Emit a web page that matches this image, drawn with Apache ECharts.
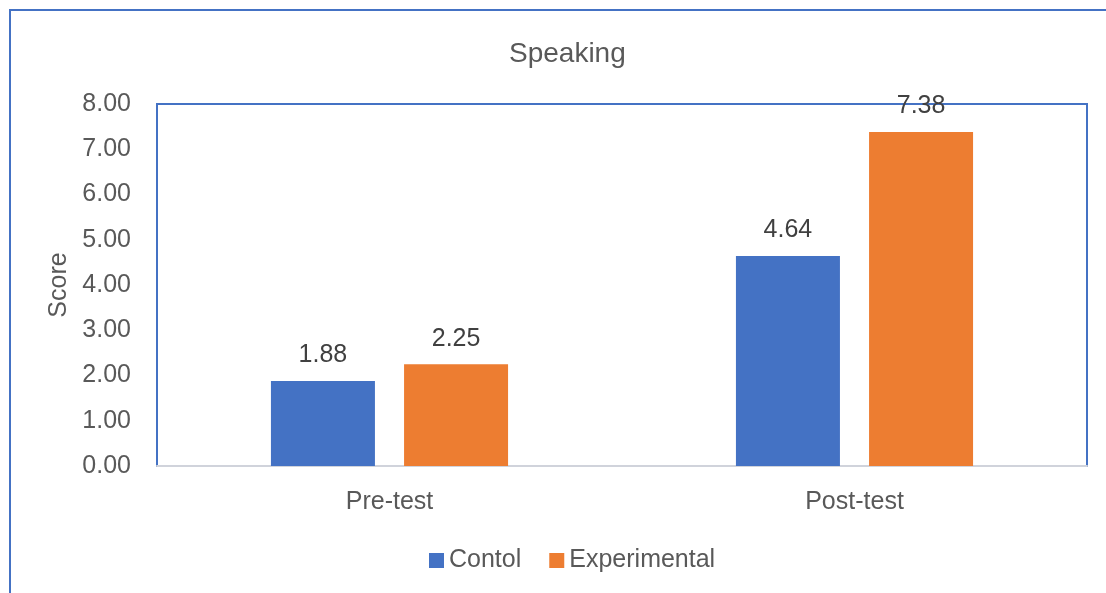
<!DOCTYPE html>
<html>
<head>
<meta charset="utf-8">
<script src="https://cdn.jsdelivr.net/npm/echarts@6/dist/echarts.min.js"></script>
<style>
  html, body { margin: 0; padding: 0; background: #fff; }
  #chart { width: 1106px; height: 593px; }
</style>
</head>
<body>
<div id="chart"></div>
<script>
// Speaking scores by test phase
const categories = ['Pre-test', 'Post-test'];
const controlScores = [1.88, 4.64];
const experimentalScores = [2.25, 7.38];
const seriesNames = ['Contol', 'Experimental'];

const FONT = '"Liberation Sans Narrow", "Liberation Sans", Arial, sans-serif';
const TEXT = '#595959';
const SIZE = 25;

const chart = echarts.init(document.getElementById('chart'));
chart.setOption({
  animation: false,
  title: {
    text: 'Speaking',
    left: 504,
    top: 35,
    textStyle: { fontFamily: FONT, fontSize: 28, fontWeight: 'normal', color: TEXT }
  },
  graphic: [{
    type: 'rect',
    shape: { x: 10, y: 10, width: 1200, height: 700 },
    style: { fill: 'none', stroke: '#4472C4', lineWidth: 2 },
    silent: true
  }],
  legend: {
    bottom: 15,
    left: 424,
    itemWidth: 15,
    itemHeight: 15,
    itemGap: 28,
    icon: 'rect',
    textStyle: { fontFamily: FONT, fontSize: SIZE, color: TEXT },
    data: seriesNames
  },
  grid: {
    left: 157, right: 19, top: 104, bottom: 127,
    show: true,
    borderColor: '#4472C4',
    borderWidth: 2,
    backgroundColor: 'transparent'
  },
  xAxis: {
    type: 'category',
    data: categories,
    axisTick: { show: false },
    axisLine: { lineStyle: { color: '#D0D3DB', width: 2 } },
    axisLabel: { fontFamily: FONT, fontSize: SIZE, color: TEXT, margin: 24 }
  },
  yAxis: {
    type: 'value',
    min: 0, max: 8, interval: 1,
    name: 'Score',
    nameLocation: 'middle',
    nameGap: 76,
    nameTextStyle: { fontFamily: FONT, fontSize: SIZE, color: TEXT },
    axisLine: { show: false },
    axisTick: { show: false },
    splitLine: { show: false },
    axisLabel: {
      fontFamily: FONT, fontSize: SIZE, color: TEXT, margin: 26,
      formatter: v => v.toFixed(2)
    }
  },
  series: [
    {
      name: seriesNames[0],
      type: 'bar',
      data: controlScores,
      barWidth: 104,
      barGap: '28%',
      itemStyle: { color: '#4472C4' },
      label: {
        show: true, position: 'top', distance: 13,
        fontFamily: FONT, fontSize: SIZE, color: '#404040',
        formatter: p => p.value.toFixed(2)
      }
    },
    {
      name: seriesNames[1],
      type: 'bar',
      data: experimentalScores,
      barWidth: 104,
      itemStyle: { color: '#ED7D31' },
      label: {
        show: true, position: 'top', distance: 13,
        fontFamily: FONT, fontSize: SIZE, color: '#404040',
        formatter: p => p.value.toFixed(2)
      }
    }
  ]
});
</script>
</body>
</html>
